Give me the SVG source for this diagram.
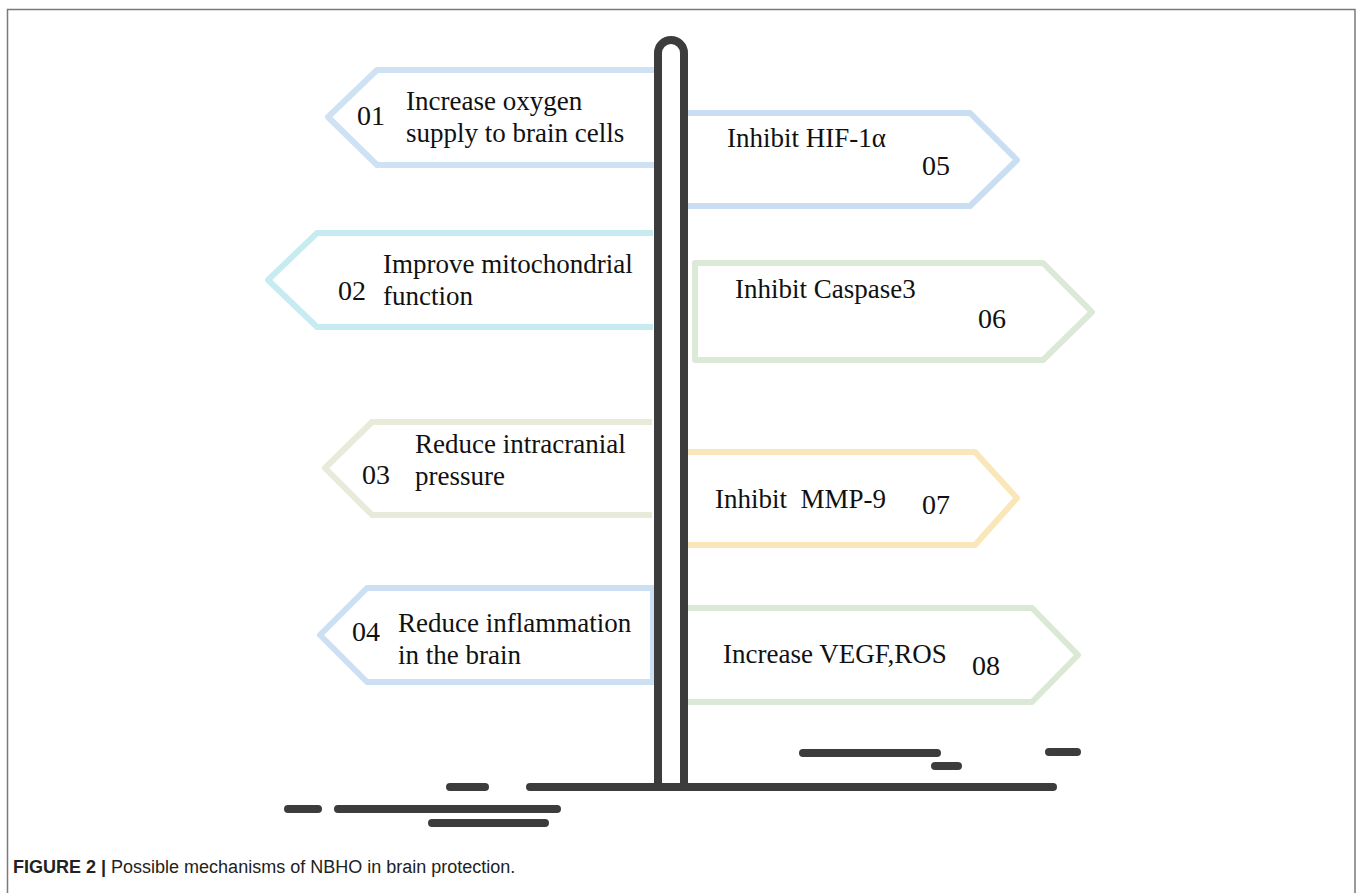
<svg xmlns="http://www.w3.org/2000/svg" width="1360" height="893" viewBox="0 0 1360 893">
<style>
.sign{fill:#fff;stroke-width:6;stroke-linejoin:round}
.t{font-family:"Liberation Serif","Times New Roman",serif;font-size:27px;fill:#111}
.n{font-family:"Liberation Serif","Times New Roman",serif;font-size:28px;fill:#111}
.pole{fill:none;stroke:#3c3c3c;stroke-width:8;stroke-linecap:round}
.cap{font-family:"Liberation Sans",Arial,sans-serif;font-size:18px;fill:#222}
</style>
<rect width="1360" height="893" fill="#fff"/>
<path d="M7.5,893 V9.5 H1355 V893" fill="none" stroke="#7a7a7a" stroke-width="1.5"/>

<g id="sign01">
<path class="sign" stroke="#cfe2f3" d="M662,70 L377,70 L328,117 L377,165 L662,165"/>
<text class="n" x="357" y="125">01</text>
<text class="t" x="406" y="110">Increase oxygen</text>
<text class="t" x="406" y="142">supply to brain cells</text>
</g>
<g id="sign05">
<path class="sign" stroke="#c9def2" d="M688,113 L970,113 L1017,160 L970,206 L688,206"/>
<text class="t" x="727" y="147">Inhibit HIF-1α</text>
<text class="n" x="922" y="175">05</text>
</g>
<g id="sign02">
<path class="sign" stroke="#c6ecf1" d="M653,233 L317,233 L268,280 L317,327 L653,327"/>
<text class="t" x="383" y="273">Improve mitochondrial</text>
<text class="t" x="383" y="305">function</text>
<text class="n" x="338" y="300">02</text>
</g>
<g id="sign06">
<path class="sign" stroke="#dde9d8" d="M695,263 L1043,263 L1092,312 L1043,360 L695,360 Z"/>
<text class="t" x="735" y="298">Inhibit Caspase3</text>
<text class="n" x="978" y="328">06</text>
</g>
<g id="sign03">
<path class="sign" stroke="#e8ebda" d="M652,422 L372,422 L325,468 L372,515 L652,515"/>
<text class="t" x="415" y="453">Reduce intracranial</text>
<text class="t" x="415" y="485">pressure</text>
<text class="n" x="362" y="484">03</text>
</g>
<g id="sign07">
<path class="sign" stroke="#f9e7b9" d="M688,452 L975,452 L1017,498 L975,545 L688,545"/>
<text class="t" x="715" y="508" xml:space="preserve">Inhibit  MMP-9</text>
<text class="n" x="922" y="514">07</text>
</g>
<g id="sign04">
<path class="sign" stroke="#cddff3" d="M653,588 L367,588 L320,635 L367,682 L653,682 Z"/>
<text class="t" x="398" y="632">Reduce inflammation</text>
<text class="t" x="398" y="664">in the brain</text>
<text class="n" x="352" y="641">04</text>
</g>
<g id="sign08">
<path class="sign" stroke="#dae8d6" d="M688,608 L1032,608 L1078,655 L1032,702 L688,702"/>
<text class="t" x="723" y="663">Increase VEGF,ROS</text>
<text class="n" x="972" y="675">08</text>
</g>

<g id="pole">
<path class="pole" d="M658,787 L658,53 A13,13 0 0 1 684,53 L684,787"/>
</g>
<g id="ground">
<path class="pole" d="M530,787 H1053 M450,787 H485 M288,809 H318 M338,809 H557 M432,823 H545 M803,753 H937 M935,766 H958 M1049,752 H1077"/>
</g>

<text class="cap" x="13" y="873"><tspan font-weight="bold">FIGURE 2 |</tspan> Possible mechanisms of NBHO in brain protection.</text>
</svg>
